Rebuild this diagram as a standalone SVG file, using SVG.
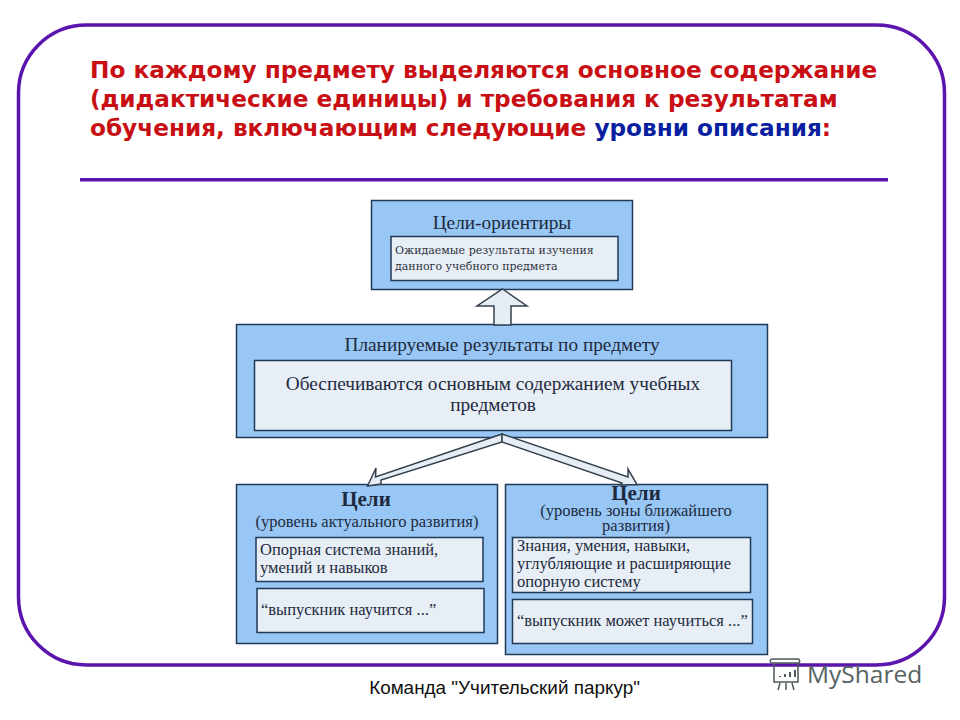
<svg xmlns="http://www.w3.org/2000/svg" width="960" height="720" viewBox="0 0 960 720">
<style>
.h{font-family:"DejaVu Sans","Liberation Sans",sans-serif;font-weight:700;font-size:23.2px;fill:#c80f14}
.b{fill:#98c7f5;stroke:#1f3a57;stroke-width:1.5}
.i{fill:#e8eef6;stroke:#1f3a57;stroke-width:1.5}
.s{font-family:"DejaVu Serif","Liberation Serif",serif;font-size:11px;fill:#2c3440}
.t{font-family:"Liberation Serif",serif;fill:#1d2a3d}
.l{font-size:19.300px}
.m{font-size:16.500px}
.c{font-size:21px;font-weight:700}
.a{fill:#e6edf5;stroke:#33404d;stroke-width:1.5;stroke-linejoin:miter}
</style>
<rect width="960" height="720" fill="#fff"/>
<rect id="frame" x="18.500" y="25" width="926" height="640" rx="68" fill="#fff" stroke="#5c14ae" stroke-width="3.500"/>
<g id="title">
<text class="h" x="90" y="78">По каждому предмету выделяются основное содержание</text>
<text class="h" x="90" y="107">(дидактические единицы) и требования к результатам</text>
<text class="h" x="90" y="136">обучения, включающим следующие <tspan fill="#0a1fa0">уровни описания</tspan>:</text>
</g>
<rect id="rule" x="80" y="178" width="808" height="3.500" fill="#5c14ae"/>
<g id="n1">
<rect class="b" x="371.500" y="200.500" width="261" height="89"/>
<rect class="i" x="391" y="236.500" width="227" height="44"/>
<text class="t l" x="502" y="229" text-anchor="middle">Цели-ориентиры</text>
<text class="s" x="395" y="254">Ожидаемые результаты изучения</text>
<text class="s" x="395" y="270">данного учебного предмета</text>
</g>
<g id="n2">
<rect class="b" x="236.500" y="324.500" width="531" height="113"/>
<rect class="i" x="254.500" y="360.500" width="477" height="70"/>
<text class="t l" x="502" y="351" text-anchor="middle">Планируемые результаты по предмету</text>
<text class="t l" x="493" y="390" text-anchor="middle">Обеспечиваются основным содержанием учебных</text>
<text class="t l" x="493" y="411" text-anchor="middle">предметов</text>
</g>
<g id="n3">
<rect class="b" x="236.500" y="484.500" width="261" height="159"/>
<rect class="i" x="256" y="537.500" width="227" height="44"/>
<rect class="i" x="257" y="588.500" width="227" height="44"/>
<text class="t c" x="366" y="506" text-anchor="middle">Цели</text>
<text class="t m" x="367" y="527" text-anchor="middle">(уровень актуального развития)</text>
<text class="t m" x="260" y="555">Опорная система знаний,</text>
<text class="t m" x="260" y="573">умений и навыков</text>
<text class="t m" x="261" y="615">“выпускник научится ...”</text>
</g>
<g id="n4">
<rect class="b" x="505.500" y="484.500" width="262" height="170"/>
<rect class="i" x="512.500" y="537.500" width="238" height="55"/>
<rect class="i" x="512.500" y="599.500" width="240" height="44"/>
<text class="t c" x="636" y="500" text-anchor="middle">Цели</text>
<text class="t m" x="636" y="516" text-anchor="middle">(уровень зоны ближайшего</text>
<text class="t m" x="636" y="531" text-anchor="middle">развития)</text>
<text class="t m" x="517" y="551">Знания, умения, навыки,</text>
<text class="t m" x="517" y="569">углубляющие и расширяющие</text>
<text class="t m" x="517" y="587">опорную систему</text>
<text class="t m" x="517" y="626">“выпускник может научиться ...”</text>
</g>
<g id="connectors">
<path class="a" d="M502.500 289L527 306H511V325H494V306H477Z"/>
<path class="a" d="M502 434L375.500 477L376 468L367.500 486L381 484L381 480L502 442Z"/>
<path class="a" d="M502 434L628 477L628 469L637 484.500L620 485L622 483L502 442Z"/>
</g>
<g id="watermark" fill="none" stroke="#4e5a5a" stroke-width="1.500">
<path d="M771 663h29M774 664v18h24v-18M780 683l-2 7M792 683l2 7M786 683v7"/>
<path d="M771 663c-2-3 0-4 2-4h25c2 0 2 3 1 4"/>
<path d="M780 677v-1M785 677v-3M790 677v-5M795 677v-7" stroke-width="2"/>
<text x="807" y="683" font-family="Open Sans,Liberation Sans,sans-serif" font-size="24.500" fill="#566262" stroke="none">MyShared</text>
</g>
<text id="footer" x="504.500" y="694" font-family="Liberation Sans,sans-serif" font-size="18.900" fill="#111" text-anchor="middle">Команда "Учительский паркур"</text>
</svg>
